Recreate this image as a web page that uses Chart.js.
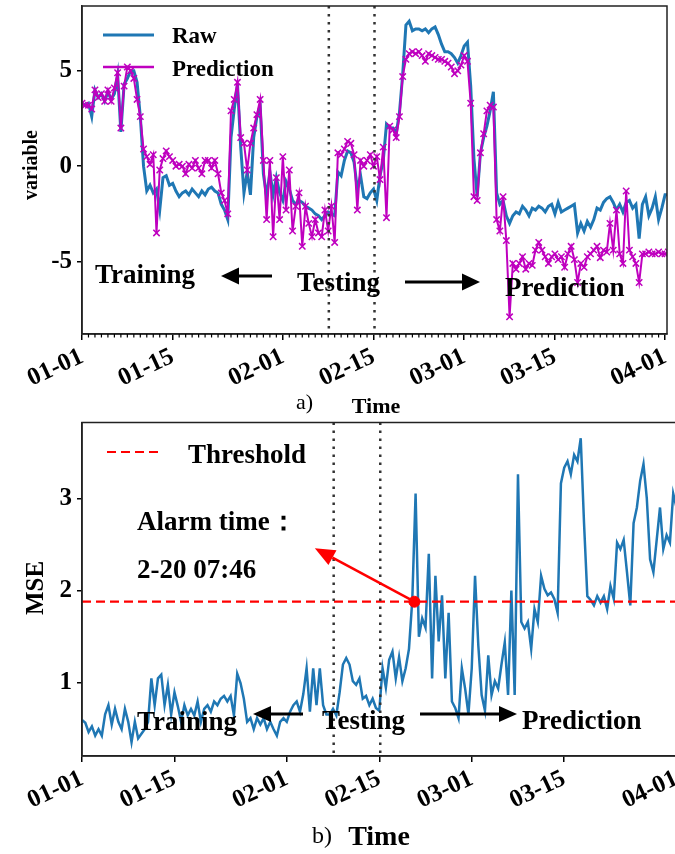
<!DOCTYPE html>
<html><head><meta charset="utf-8">
<script src="https://cdn.jsdelivr.net/npm/chart.js@4/dist/chart.umd.min.js"></script>
<style>
html,body{margin:0;padding:0;background:#fff;overflow:hidden;width:675px;height:854px;position:relative;}
canvas{position:absolute;left:0;}
#c1{top:0}
#c2{top:416px}
</style></head><body>
<canvas id="c1" width="675" height="416"></canvas>
<canvas id="c2" width="685" height="438"></canvas>
<script>
const STEP_DAYS = 0.5; // one sample every 12 hours, starting 01-01
const tickDays = [0, 14, 31, 45, 59, 73, 90];
const tickLabels = ['01-01', '01-15', '02-01', '02-15', '03-01', '03-15', '04-01'];
const topYTicks = [-5, 0, 5];
const bottomYTicks = [1, 2, 3];
const splitDays = [38.1, 45.15];
const THRESHOLD = 1.88;
const ALARM_DAY = 50.32; // 2-20 07:46

const rawValues = [
 3.3, 3.2, 3.3, 2.6, 4.0, 3.6, 3.8, 3.4, 3.9, 3.5,
 3.8, 4.8, 1.8, 4.3, 4.6, 5.0, 5.0, 4.4, 2.6, 0.0,
 -1.3, -1.0, -1.4, -1.2, -2.3, -0.6, -0.5, -1.0, -0.9, -1.3,
 -1.6, -1.4, -1.3, -1.5, -1.2, -1.4, -1.6, -1.3, -1.5, -1.2,
 -1.1, -1.3, -1.4, -2.0, -2.3, -2.8, 1.5, 3.0, 4.3, 1.0,
 -1.4, -0.3, -1.5, 1.5, 2.6, 3.2, -0.4, -1.6, -0.3, -1.5,
 -0.6, -1.4, -1.8, -0.8, -1.2, -1.8, -2.0, -1.8, -1.9, -2.1,
 -2.2, -2.3, -2.5, -2.6, -2.8, -2.6, -2.4, -2.5, -2.6, -0.3,
 -0.5, 0.3, 0.8, 0.7, 0.2, -1.2, -0.5, -1.6, -1.7, -1.4,
 -1.2, -1.8, -0.5, 0.3, 2.2, 2.0, 2.0, 1.7, 2.8, 4.8,
 7.4, 7.6, 7.1, 7.2, 7.2, 7.1, 7.2, 7.0, 7.2, 7.3,
 6.9, 6.4, 6.0, 6.0, 5.9, 5.7, 5.4, 5.8, 6.3, 6.5,
 4.2, 0.4, -1.6, 0.7, 1.5, 2.1, 2.9, 3.9, -1.4, -2.0,
 -1.8, -2.6, -3.0, -2.6, -2.4, -2.5, -2.1, -2.3, -2.6, -2.2,
 -2.3, -2.1, -2.2, -2.4, -2.1, -2.0, -2.5, -1.9, -2.4, -2.3,
 -2.2, -2.1, -2.0, -3.5, -3.0, -3.4, -2.9, -3.2, -2.8, -2.2,
 -2.3, -1.9, -1.7, -1.6, -1.9, -2.3, -2.0, -2.4, -1.9, -1.8,
 -2.2, -2.0, -3.8, -2.0, -1.6, -2.6, -2.2, -1.6, -2.8, -2.2,
 -1.5, -1.5
];

const predValues = [
 3.3, 3.2, 3.2, 3.0, 4.0, 3.6, 3.8, 3.4, 4.0, 3.4,
 4.1, 4.9, 2.0, 4.2, 5.2, 5.0, 4.6, 3.5, 2.6, 0.9,
 0.5, 0.1, 0.6, -3.5, -0.2, 0.4, 0.8, 0.5, 0.3, 0.0,
 0.1, 0.0, -0.4, 0.1, -0.1, 0.3, -0.1, -0.4, 0.3, 0.3,
 -0.1, 0.3, -0.4, -1.4, -1.8, -2.5, 2.9, 3.5, 4.4, 1.5,
 1.2, -0.2, 1.2, 2.0, 2.7, 3.5, 0.3, -2.8, 0.3, -3.7,
 -0.6, -2.8, 0.5, -2.3, -0.2, -3.4, -2.1, -1.4, -4.2, -2.1,
 -3.0, -3.7, -2.8, -3.5, -3.7, -2.3, -3.4, -2.1, -4.0, 0.7,
 0.6, 0.9, 1.3, 1.2, 0.6, -2.3, 0.3, 0.0, 0.3, 0.6,
 0.0, 0.5, -0.7, 1.0, -2.7, 2.1, 1.9, 1.5, 2.6, 4.7,
 5.6, 5.9, 6.0, 5.9, 6.0, 5.8, 5.5, 5.9, 5.8, 5.7,
 5.6, 5.6, 5.5, 5.4, 5.2, 4.85, 5.0, 5.3, 5.8, 5.5,
 3.3, -1.6, -1.8, 0.7, 1.7, 2.9, 3.2, 3.1, -2.8, -3.4,
 -1.6, -3.9, -7.9, -5.1, -5.4, -5.1, -4.75, -5.4, -5.1, -5.2,
 -4.4, -4.0, -4.4, -4.75, -5.1, -4.75, -4.6, -4.9, -4.75, -5.3,
 -4.6, -4.2, -4.9, -6.1, -5.1, -5.3, -4.75, -4.6, -4.4, -4.2,
 -4.8, -4.4, -4.5, -3.0, -4.4, -2.3, -4.6, -5.1, -1.3, -4.4,
 -4.75, -5.1, -6.1, -4.6, -4.6, -4.5, -4.6, -4.6, -4.5, -4.6,
 -4.6, -4.5
];

const mseValues = [
 0.60, 0.57, 0.47, 0.53, 0.43, 0.50, 0.43, 0.66, 0.76, 0.55,
 0.72, 0.58, 0.50, 0.72, 0.58, 0.36, 0.58, 0.40, 0.45, 0.50,
 0.58, 1.05, 0.76, 1.05, 1.09, 0.76, 0.98, 0.66, 0.90, 0.75,
 0.58, 0.76, 0.65, 0.72, 0.65, 0.80, 0.58, 0.72, 0.76, 0.69,
 0.80, 0.76, 0.83, 0.86, 0.80, 0.86, 0.65, 1.10, 1.00, 0.83,
 0.58, 0.62, 0.50, 0.62, 0.55, 0.62, 0.50, 0.58, 0.50, 0.43,
 0.58, 0.62, 0.58, 0.69, 0.76, 0.80, 0.69, 0.88, 1.16, 0.69,
 1.16, 0.76, 1.16, 0.76, 0.66, 0.66, 0.72, 0.65, 0.90, 1.20,
 1.27, 1.20, 1.02, 0.98, 1.05, 0.83, 0.86, 0.76, 0.83, 0.73,
 0.70, 1.16, 0.95, 1.25, 1.34, 1.05, 1.28, 1.02, 1.16, 1.37,
 1.90, 3.05, 1.50, 1.70, 1.60, 2.40, 1.05, 2.16, 1.45, 1.95,
 1.05, 1.76, 0.80, 0.73, 0.62, 1.16, 0.94, 0.66, 1.16, 2.16,
 1.40, 0.87, 0.70, 1.30, 0.87, 1.02, 0.94, 1.20, 1.44, 0.87,
 2.00, 0.87, 3.26, 1.66, 1.59, 1.66, 1.37, 1.80, 1.66, 2.16,
 2.02, 1.95, 1.98, 1.91, 1.76, 3.16, 3.33, 3.40, 3.26, 3.47,
 3.40, 3.65, 2.73, 1.94, 1.90, 1.84, 1.94, 1.87, 1.94, 1.80,
 2.05, 1.91, 2.52, 2.45, 2.55, 2.20, 1.84, 2.73, 2.90, 3.19,
 3.37, 3.00, 2.34, 2.20, 2.55, 2.90, 2.45, 2.60, 2.52, 3.05,
 2.90, 2.90
];

const FONT = "'Liberation Serif', 'Times New Roman', serif";
const BLUE = '#1f77b4';
const MAGENTA = '#bf00bf';

function toPoints(vals) { return vals.map((v, i) => ({ x: i * STEP_DAYS, y: v })); }

function text(ctx, str, x, y, size, bold, align, rot) {
  ctx.save();
  ctx.font = (bold ? 'bold ' : '') + size + 'px ' + FONT;
  ctx.fillStyle = '#000';
  ctx.textAlign = align || 'left';
  ctx.textBaseline = 'alphabetic';
  ctx.translate(x, y);
  if (rot) ctx.rotate(rot);
  ctx.fillText(str, 0, 0);
  ctx.restore();
}
function arrow(ctx, x1, y1, x2, y2, color, lw, hl, hw) {
  const a = Math.atan2(y2 - y1, x2 - x1);
  const bx = x2 - hl * Math.cos(a), by = y2 - hl * Math.sin(a);
  ctx.save();
  ctx.strokeStyle = color; ctx.fillStyle = color; ctx.lineWidth = lw;
  ctx.beginPath(); ctx.moveTo(x1, y1); ctx.lineTo(bx, by); ctx.stroke();
  ctx.beginPath(); ctx.moveTo(x2, y2);
  ctx.lineTo(bx + hw / 2 * Math.sin(a), by - hw / 2 * Math.cos(a));
  ctx.lineTo(bx - hw / 2 * Math.sin(a), by + hw / 2 * Math.cos(a));
  ctx.closePath(); ctx.fill();
  ctx.restore();
}
function seg(ctx, x1, y1, x2, y2, color, lw, dash) {
  ctx.save();
  ctx.strokeStyle = color; ctx.lineWidth = lw;
  if (dash) ctx.setLineDash(dash);
  ctx.beginPath(); ctx.moveTo(x1, y1); ctx.lineTo(x2, y2); ctx.stroke();
  ctx.restore();
}
function splitLines(chart) {
  const xs = chart.scales.x, a = chart.chartArea, ctx = chart.ctx;
  splitDays.forEach(d => {
    const px = xs.getPixelForValue(d);
    seg(ctx, px, a.top, px, a.bottom, '#333', 2.5, [2.5, 5.5]);
  });
}
function frame(chart) {
  const a = chart.chartArea, ctx = chart.ctx;
  ctx.save(); ctx.strokeStyle = '#222'; ctx.lineWidth = 1.5;
  ctx.strokeRect(a.left, a.top, a.right - a.left, a.bottom - a.top);
  ctx.restore();
}
function noPad(s) { s.paddingTop = 0; s.paddingBottom = 0; s.paddingLeft = 0; s.paddingRight = 0; }

function xScale(max, height) {
  return {
    type: 'linear', min: 0, max: max,
    afterBuildTicks: s => { s.ticks = tickDays.map(v => ({ value: v })); },
    ticks: {
      autoSkip: false, maxRotation: 25, minRotation: 25, padding: 2, color: '#000',
      font: { family: FONT, size: 25, weight: 'bold' },
      callback: v => { const k = tickDays.indexOf(v); return k >= 0 ? tickLabels[k] : ''; }
    },
    grid: { display: true, drawOnChartArea: false, drawTicks: true, tickLength: 6, color: '#000', lineWidth: 1.5 },
    border: { display: true, color: '#222', width: 1.5 },
    afterFit: s => { s.height = height; noPad(s); }
  };
}
function yScale(min, max, ticks) {
  return {
    type: 'linear', min: min, max: max,
    afterBuildTicks: s => { s.ticks = ticks.map(v => ({ value: v })); },
    ticks: { padding: 5, color: '#000', font: { family: FONT, size: 25, weight: 'bold' } },
    grid: { display: true, drawOnChartArea: false, drawTicks: true, tickLength: 5, color: '#000', lineWidth: 1.5 },
    border: { display: true, color: '#222', width: 1.5 },
    afterFit: s => { s.width = 82; noPad(s); }
  };
}
const baseOpts = {
  responsive: false, animation: false, devicePixelRatio: 1,
  plugins: { legend: { display: false }, tooltip: { enabled: false } },
  events: []
};

// ---------- Top chart ----------
const topDecor = {
  id: 'topDecor',
  afterDatasetsDraw(chart) { splitLines(chart); },
  afterDraw(chart) {
    const ctx = chart.ctx, xs = chart.scales.x, a = chart.chartArea;
    frame(chart);
    for (let d = 0; d <= 90; d++) {
      if (tickDays.includes(d)) continue;
      const px = xs.getPixelForValue(d);
      seg(ctx, px, a.bottom, px, a.bottom + 3.5, '#000', 1.2);
    }
    seg(ctx, 103, 35, 154, 35, BLUE, 3);
    text(ctx, 'Raw', 172, 43, 23, true);
    seg(ctx, 103, 67, 154, 67, MAGENTA, 2.5);
    text(ctx, 'Prediction', 172, 76, 23, true);
    text(ctx, 'Training', 95, 283, 27, true);
    arrow(ctx, 272, 276, 221, 276, '#000', 3, 18, 17);
    text(ctx, 'Testing', 297, 291, 27, true);
    arrow(ctx, 405, 282, 480, 282, '#000', 3, 18, 17);
    text(ctx, 'Prediction', 505, 296, 27, true);
    text(ctx, 'variable', 37, 165, 20, true, 'center', -Math.PI / 2);
    text(ctx, 'Time', 376, 413, 22, true, 'center');
    text(ctx, 'a)', 296, 409, 22, false);
  }
};

new Chart(document.getElementById('c1'), {
  type: 'line',
  data: {
    datasets: [
      { label: 'Raw', data: toPoints(rawValues), borderColor: BLUE, borderWidth: 3, pointRadius: 0, tension: 0, order: 2 },
      { label: 'Prediction', data: toPoints(predValues), borderColor: MAGENTA, borderWidth: 2, tension: 0, order: 1,
        pointStyle: 'crossRot', pointRadius: 4.5, pointBorderColor: MAGENTA, pointBorderWidth: 1.5, pointBackgroundColor: MAGENTA }
    ]
  },
  options: Object.assign({}, baseOpts, {
    layout: { padding: { left: 0, right: 8, top: 6, bottom: 0 } },
    scales: { x: xScale(90.3, 82), y: yScale(-8.8, 8.4, topYTicks) }
  }),
  plugins: [topDecor]
});

// ---------- Bottom chart ----------
const bottomDecor = {
  id: 'bottomDecor',
  afterDatasetsDraw(chart) { splitLines(chart); },
  afterDraw(chart) {
    const ctx = chart.ctx, xs = chart.scales.x, ys = chart.scales.y;
    frame(chart);
    seg(ctx, 107, 36, 160, 36, 'red', 2.2, [9, 5]);
    text(ctx, 'Threshold', 188, 47, 27, true);
    text(ctx, 'Alarm time\uFF1A', 137, 114, 27, true);
    text(ctx, '2-20 07:46', 137, 162, 27, true);
    arrow(ctx, xs.getPixelForValue(ALARM_DAY), ys.getPixelForValue(THRESHOLD),
          xs.getPixelForValue(35.25), ys.getPixelForValue(2.46), 'red', 2.5, 20, 17);
    text(ctx, 'Training', 137, 314, 27, true);
    arrow(ctx, 303, 298, 253, 298, '#000', 3, 18, 16);
    text(ctx, 'Testing', 322, 313, 27, true);
    arrow(ctx, 420, 298, 517, 298, '#000', 3, 18, 16);
    text(ctx, 'Prediction', 522, 313, 27, true);
    text(ctx, 'MSE', 43, 172, 25, true, 'center', -Math.PI / 2);
    text(ctx, 'Time', 379, 429, 28, true, 'center');
    text(ctx, 'b)', 312, 427, 24, false);
  }
};

new Chart(document.getElementById('c2'), {
  type: 'line',
  data: {
    datasets: [
      { label: 'Alarm', data: [{ x: ALARM_DAY, y: THRESHOLD }], showLine: false, pointRadius: 5.5,
        pointBackgroundColor: 'red', pointBorderColor: 'red', order: 0 },
      { label: 'Threshold', data: [{ x: 0, y: THRESHOLD }, { x: 90.3, y: THRESHOLD }], borderColor: 'red',
        borderWidth: 2.2, borderDash: [9, 5], pointRadius: 0, order: 1 },
      { label: 'MSE', data: toPoints(mseValues), borderColor: BLUE, borderWidth: 2.5, pointRadius: 0, tension: 0, order: 2 }
    ]
  },
  options: Object.assign({}, baseOpts, {
    layout: { padding: { left: 0, right: 6, top: 2, bottom: 0 } },
    scales: { x: xScale(90.3, 98), y: yScale(0.21, 3.82, bottomYTicks) }
  }),
  plugins: [bottomDecor]
});
</script>
</body></html>
